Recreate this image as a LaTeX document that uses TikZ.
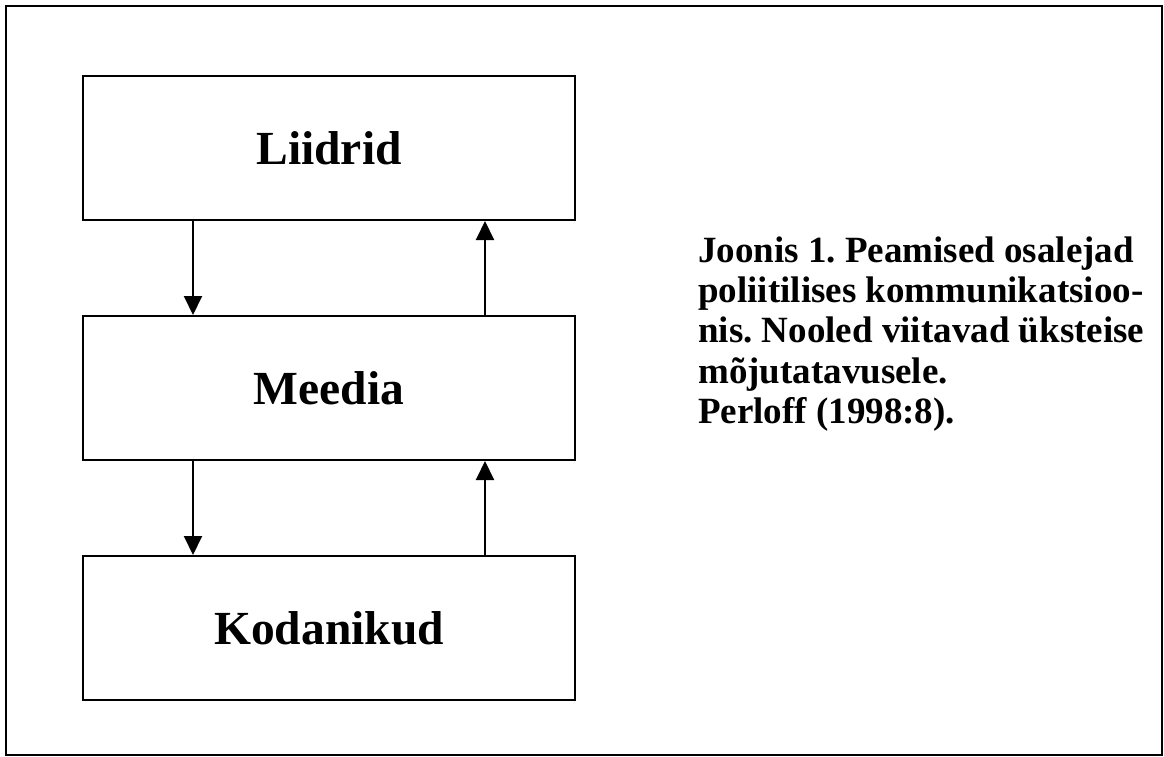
\documentclass[tikz,border=0pt]{standalone}
\usepackage{fontspec}
\setmainfont{Liberation Serif}
\usetikzlibrary{arrows.meta}
\begin{document}
\frenchspacing
\begin{tikzpicture}[x=1pt,y=-1pt,
  box/.style={draw,line width=2pt,minimum width=492pt,minimum height=144pt,inner sep=0pt,
    font=\fontsize{47.5}{56}\selectfont\bfseries},
  link/.style={line width=2pt,-{Triangle[width=18pt,length=19pt]}},
  frame/.style={draw,line width=2pt}]
\useasboundingbox (0,0) rectangle (1164,757);
\draw[frame] (6,6) rectangle (1162,755);
\node[box] (L) at (329,148) {Liidrid};
\node[box] (M) at (329,388) {Meedia};
\node[box] (K) at (329,628) {Kodanikud};
\draw[link] ([xshift=111pt]L.south west) -- ([xshift=111pt]M.north west);
\draw[link] ([xshift=403pt]M.north west) -- ([xshift=403pt]L.south west);
\draw[link] ([xshift=111pt]M.south west) -- ([xshift=111pt]K.north west);
\draw[link] ([xshift=403pt]K.north west) -- ([xshift=403pt]M.south west);
\node[anchor=north west,inner sep=0pt,align=left,
  font=\fontsize{37}{40.3}\selectfont\bfseries\frenchspacing] (cap) at (698,236.5)
  {Joonis 1. Peamised osalejad\\poliitilises kommunikatsioo-\\nis. Nooled viitavad üksteise\\mõjutatavusele.\\Perloff (1998:8).};
\end{tikzpicture}
\end{document}
